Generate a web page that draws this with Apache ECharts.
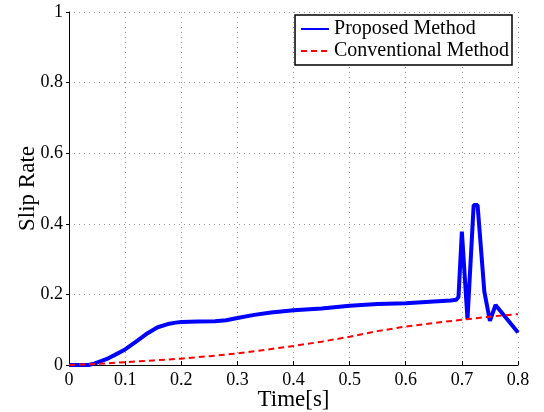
<!DOCTYPE html>
<html>
<head>
<meta charset="utf-8">
<script src="https://cdn.jsdelivr.net/npm/echarts@6/dist/echarts.min.js"></script>
<style>
html, body { margin: 0; padding: 0; background: #fff; }
#chart { width: 544px; height: 412px; }
</style>
</head>
<body>
<div id="chart"></div>
<script>
// slip rate readings
const proposedTime = [0, 0.035, 0.045, 0.057, 0.07, 0.081, 0.1, 0.122, 0.14, 0.158, 0.176, 0.19, 0.2, 0.23, 0.26, 0.28, 0.3, 0.33, 0.36, 0.4, 0.45, 0.5, 0.55, 0.6, 0.65, 0.68, 0.69, 0.694, 0.7, 0.71, 0.721, 0.728, 0.74, 0.75, 0.76, 0.8];
const proposedRate = [0, 0, 0.004, 0.011, 0.019, 0.028, 0.044, 0.069, 0.09, 0.107, 0.116, 0.12, 0.122, 0.123, 0.124, 0.127, 0.133, 0.142, 0.149, 0.155, 0.16, 0.168, 0.173, 0.175, 0.18, 0.183, 0.185, 0.193, 0.378, 0.129, 0.453, 0.453, 0.208, 0.125, 0.17, 0.092];

const conventionalTime = [0, 0.05, 0.1, 0.15, 0.2, 0.25, 0.3, 0.35, 0.4, 0.45, 0.5, 0.55, 0.6, 0.65, 0.7, 0.75, 0.8];
const conventionalRate = [0, 0.003, 0.008, 0.013, 0.018, 0.025, 0.033, 0.043, 0.054, 0.066, 0.08, 0.096, 0.109, 0.119, 0.128, 0.137, 0.144];

const seriesNames = ['Proposed Method', 'Conventional Method'];

function pairs(xs, ys) {
  return xs.map((x, i) => [x, ys[i]]);
}

const font = '"Liberation Serif", "Times New Roman", serif';
const chart = echarts.init(document.getElementById('chart'), null, { renderer: 'canvas' });

chart.setOption({
  animation: false,
  backgroundColor: '#fff',
  textStyle: { fontFamily: font },
  grid: { left: 69, right: 26, top: 12, bottom: 47, outerBoundsMode: 'none' },
  legend: {
    orient: 'vertical',
    right: 32,
    top: 15,
    padding: [4, 3, 4, 5],
    itemWidth: 28,
    itemHeight: 14,
    itemGap: 2,
    borderColor: '#000',
    borderWidth: 1.5,
    backgroundColor: '#fff',
    itemStyle: { opacity: 0 },
    textStyle: { fontFamily: font, fontSize: 20, color: '#000', lineHeight: 20 },
    data: seriesNames
  },
  xAxis: {
    type: 'value',
    min: 0, max: 0.8, interval: 0.1,
    name: 'Time[s]',
    nameLocation: 'middle',
    nameGap: 23,
    nameMoveOverlap: false,
    nameTextStyle: { fontFamily: font, fontSize: 23, color: '#000' },
    axisLine: { lineStyle: { color: '#000', width: 1 } },
    axisTick: { inside: true, length: 4, lineStyle: { color: '#000' } },
    axisLabel: { fontFamily: font, fontSize: 18, color: '#000', margin: 6 },
    splitLine: { show: true, lineStyle: { type: [1, 4], color: '#999' } }
  },
  yAxis: {
    type: 'value',
    min: 0, max: 1, interval: 0.2,
    name: 'Slip Rate',
    nameLocation: 'middle',
    nameGap: 30,
    nameMoveOverlap: false,
    nameTextStyle: { fontFamily: font, fontSize: 23, color: '#000' },
    axisLine: { show: true, lineStyle: { color: '#000', width: 1 } },
    axisTick: { show: true, inside: false, length: 3, lineStyle: { color: '#000' } },
    axisLabel: { fontFamily: font, fontSize: 18, color: '#000', margin: 6 },
    splitLine: { show: true, lineStyle: { type: [1, 4], color: '#999' } }
  },
  series: [
    {
      name: seriesNames[0],
      type: 'line',
      symbol: 'none',
      data: pairs(proposedTime, proposedRate),
      lineStyle: { color: '#0000ff', width: 4 },
      itemStyle: { color: '#0000ff' },
      z: 3
    },
    {
      name: seriesNames[1],
      type: 'line',
      symbol: 'none',
      data: pairs(conventionalTime, conventionalRate),
      lineStyle: { color: '#ff0000', width: 2, type: [6, 4] },
      itemStyle: { color: '#ff0000' },
      z: 4
    }
  ]
});
</script>
</body>
</html>
